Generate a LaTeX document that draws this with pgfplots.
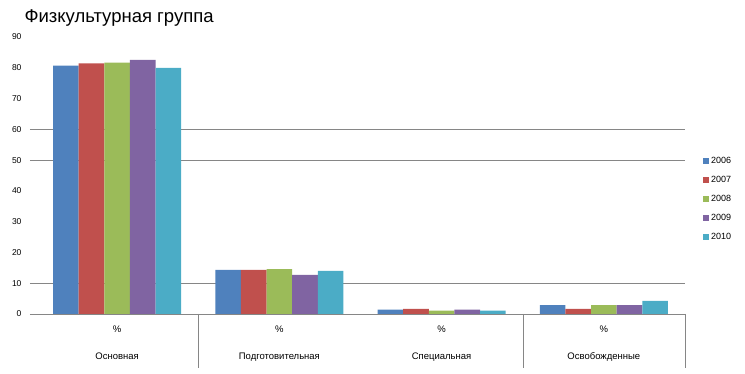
\documentclass[border=0pt]{standalone}
\usepackage{pgfplots}
\pgfplotsset{compat=1.18}
\usepackage{fontspec}
\setmainfont{Liberation Sans}
\definecolor{c1}{HTML}{4F81BD}
\definecolor{c2}{HTML}{C0504D}
\definecolor{c3}{HTML}{9BBB59}
\definecolor{c4}{HTML}{8064A2}
\definecolor{c5}{HTML}{4BACC6}
\definecolor{gl}{HTML}{868686}
\begin{document}
\begin{tikzpicture}
\path[use as bounding box] (-36pt,-60pt) rectangle (709pt,314pt);
\node[anchor=west, font=\fontsize{18.5}{20}\selectfont] at (-15pt,296pt) {Физкультурная группа};
\begin{axis}[
  at={(0pt,0pt)}, anchor=south west,
  scale only axis, width=649pt, height=277pt,
  xmin=-0.5, xmax=3.5, ymin=0, ymax=90,
  ybar=0pt, bar width=25.6pt,
  ytick={0,10,...,90},
  xtick={0,1,2,3},
  xticklabels={{\%\\[17pt]Основная},{\%\\[17pt]Подготовительная},{\%\\[17pt]Специальная},{\%\\[17pt]Освобожденные}},
  xticklabel style={align=center, anchor=north, yshift=-8pt, font=\fontsize{9.5}{10}\selectfont},
  yticklabel style={anchor=east, xshift=-11pt, font=\fontsize{8.5}{10}\selectfont},
  /pgf/number format/assume math mode=true,
  axis line style={draw=none},
  major tick length=0pt,
  clip=false,
  legend style={draw=none, fill=none, at={(1,0.415)}, anchor=west, xshift=18pt,
    font=\fontsize{9}{10}\selectfont, row sep=7pt, inner xsep=0pt, inner ysep=0pt},
  legend cell align=left,
  legend image code/.code={\fill[#1] (0pt,-3pt) rectangle (6pt,3pt);},
]
\draw[gl] ([xshift=-6pt]axis cs:-0.5,10) -- (axis cs:3.5,10);
\draw[gl] ([xshift=-6pt]axis cs:-0.5,50) -- (axis cs:3.5,50);
\draw[gl] ([xshift=-6pt]axis cs:-0.5,60) -- (axis cs:3.5,60);
\addplot[fill=c1, draw=none] coordinates {(0,80.7) (1,14.3) (2,1.4) (3,2.9)};
\addplot[fill=c2, draw=none] coordinates {(0,81.4) (1,14.3) (2,1.7) (3,1.7)};
\addplot[fill=c3, draw=none] coordinates {(0,81.7) (1,14.6) (2,1.1) (3,2.9)};
\addplot[fill=c4, draw=none] coordinates {(0,82.6) (1,12.7) (2,1.4) (3,2.9)};
\addplot[fill=c5, draw=none] coordinates {(0,80.0) (1,14.0) (2,1.1) (3,4.3)};
\legend{2006,2007,2008,2009,2010}
\draw[gl] ([xshift=-6pt]axis cs:-0.5,0) -- (axis cs:3.5,0);
\draw[gl] (axis cs:0.5,0) -- ([yshift=-54pt]axis cs:0.5,0);
\draw[gl] (axis cs:2.5,0) -- ([yshift=-54pt]axis cs:2.5,0);
\draw[gl] (axis cs:3.5,0) -- ([yshift=-54pt]axis cs:3.5,0);
\end{axis}
\end{tikzpicture}
\end{document}
